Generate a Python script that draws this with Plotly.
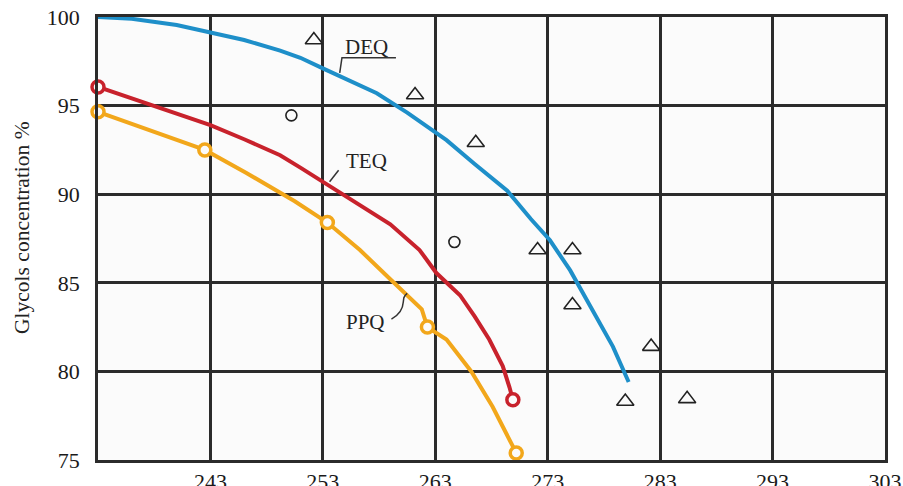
import plotly.graph_objects as go

# ---- data ----
deq_x = [233, 236, 240, 243, 246, 249.2, 251, 253, 255.5, 257.8, 260.5, 263, 264, 266.5, 269.4, 271.5, 273.2, 275, 276.7, 278.8, 280.2]
deq_y = [100, 99.9, 99.55, 99.15, 98.7, 98.1, 97.7, 97.1, 96.4, 95.7, 94.6, 93.45, 93.05, 91.7, 90.2, 88.6, 87.4, 85.7, 83.8, 81.4, 79.4]

teq_x = [233, 238, 243, 246, 249.2, 251, 253, 256, 259, 261.6, 263.1, 265.2, 266.5, 267.8, 269, 269.6, 269.9]
teq_y = [96.05, 95.0, 93.9, 93.1, 92.2, 91.5, 90.7, 89.5, 88.3, 86.85, 85.55, 84.3, 83.1, 81.8, 80.3, 79.1, 78.4]
teq_mx = [233, 269.9]
teq_my = [96.05, 78.4]

ppq_x = [233, 242.5, 246.2, 250.5, 253.4, 256.3, 259, 261.8, 262.3, 264, 266.2, 268.1, 270.2]
ppq_y = [94.65, 92.5, 91.2, 89.6, 88.4, 86.85, 85.2, 83.5, 82.5, 81.8, 80.0, 78.0, 75.4]
ppq_mx = [233, 242.5, 253.4, 262.3, 270.2]
ppq_my = [94.65, 92.5, 88.4, 82.5, 75.4]

tri_x = [252.2, 261.2, 266.6, 272.1, 275.2, 275.2, 282.2, 279.9, 285.4]
tri_y = [98.7, 95.6, 92.9, 86.85, 86.85, 83.75, 81.4, 78.3, 78.45]

circ_x = [250.2, 264.7]
circ_y = [94.45, 87.3]

x_ticks = [243, 253, 263, 273, 283, 293, 303]
y_ticks = [75, 80, 85, 90, 95, 100]

BLUE = "#1e8fc9"
RED = "#c8222c"
ORANGE = "#f2a71b"
GRID = "#2b2b2b"
FONT = "Liberation Serif, Times New Roman, serif"

fig = go.Figure()
fig.add_trace(go.Scatter(x=deq_x, y=deq_y, mode="lines", line=dict(color=BLUE, width=4), cliponaxis=False))
fig.add_trace(go.Scatter(x=teq_x, y=teq_y, mode="lines", line=dict(color=RED, width=4), cliponaxis=False))
fig.add_trace(go.Scatter(x=ppq_x, y=ppq_y, mode="lines", line=dict(color=ORANGE, width=4), cliponaxis=False))
fig.add_trace(go.Scatter(x=teq_mx, y=teq_my, mode="markers", cliponaxis=False,
                         marker=dict(symbol="circle", size=12, color="#fbfbfb", line=dict(color=RED, width=3.5))))
fig.add_trace(go.Scatter(x=ppq_mx, y=ppq_my, mode="markers", cliponaxis=False,
                         marker=dict(symbol="circle", size=12, color="#fbfbfb", line=dict(color=ORANGE, width=3.5))))
fig.add_trace(go.Scatter(x=tri_x, y=tri_y, mode="markers", cliponaxis=False,
                         marker=dict(symbol="triangle-up-open", size=15, color="#222", line=dict(color="#222", width=1.6))))
fig.add_trace(go.Scatter(x=circ_x, y=circ_y, mode="markers", cliponaxis=False,
                         marker=dict(symbol="circle-open", size=11, color="#222", line=dict(color="#222", width=1.6))))

# labels with leader lines
lab_font = dict(family=FONT, size=21, color="#222")
fig.add_annotation(x=256.9, y=98.3, text="DEQ", showarrow=False, font=lab_font)
fig.add_annotation(x=256.9, y=91.9, text="TEQ", showarrow=False, font=lab_font)
fig.add_annotation(x=256.8, y=82.8, text="PPQ", showarrow=False, font=lab_font)

fig.add_shape(type="path", xref="x", yref="y", path="M 254.5 96.85 L 254.7 97.7 L 259.5 97.7",
              line=dict(color="#333", width=1.5))
fig.add_shape(type="line", xref="x", yref="y", x0=253.6, y0=90.7, x1=254.4, y1=91.35,
              line=dict(color="#333", width=1.5))
fig.add_shape(type="path", xref="x", yref="y",
              path="M 259.1 82.95 Q 260.1 83.3 260.15 83.9 L 260.2 84.15 Q 260.3 84.3 260.5 84.4",
              line=dict(color="#333", width=1.5))

fig.add_annotation(xref="paper", yref="paper", x=-0.0965, y=0.524, text="Glycols concentration %",
                   textangle=-90, showarrow=False, xanchor="center", yanchor="middle",
                   font=dict(family=FONT, size=21.5, color="#222"))

axis_common = dict(showgrid=True, gridcolor=GRID, gridwidth=2.5, showline=True, linecolor=GRID,
                   linewidth=2.5, mirror=True, zeroline=False, ticks="outside", automargin=False,
                   ticklabeloverflow="allow",
                   tickcolor="rgba(0,0,0,0)", tickfont=dict(family=FONT, size=22, color="#1a1a1a"))
fig.update_xaxes(range=[233, 303], tickvals=x_ticks, ticktext=[str(v) for v in x_ticks], ticklen=0, **axis_common)
fig.update_yaxes(range=[75, 100], tickvals=y_ticks, ticktext=[str(v) for v in y_ticks], ticklen=11, **axis_common)

fig.update_layout(width=903, height=486, margin=dict(l=98, r=18, t=17, b=26, autoexpand=False),
                  plot_bgcolor="#fbfbfb", paper_bgcolor="white", showlegend=False)

fig.write_html("out.html", config={"displayModeBar": False},
               post_script="document.body.style.margin='0px';")
